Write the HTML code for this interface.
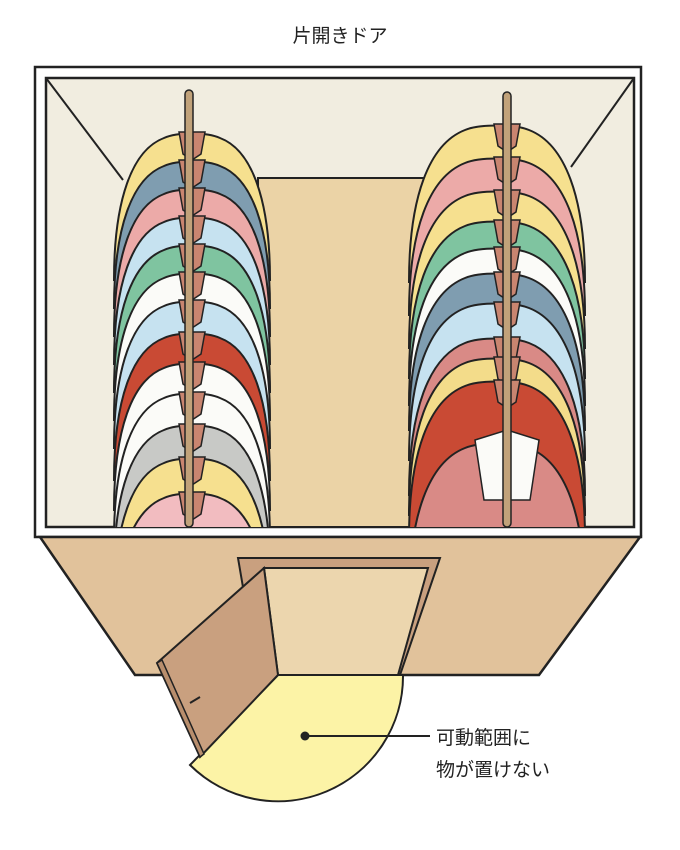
<!DOCTYPE html>
<html><head><meta charset="utf-8"><style>
html,body{margin:0;padding:0;background:#fff;}
svg{display:block}
text{font-family:"Liberation Sans","Noto Sans CJK JP",sans-serif;}
</style></head><body>
<svg width="680" height="850" viewBox="0 0 680 850" xmlns="http://www.w3.org/2000/svg">
<defs>
<path id="g" d="M-78,150 C-78,70 -60,20 -28,8 C-15,2 15,2 28,8 C60,20 78,70 78,150 Z" stroke="#222" stroke-width="2"/>
<path id="gr" d="M-88,160 C-88,75 -68,22 -32,8 C-18,2 18,2 32,8 C68,22 88,75 88,160 Z" stroke="#222" stroke-width="2"/>
<path id="c" d="M-13,2 L13,2 L9,24 L0,30 L-9,24Z" fill="#c98570" stroke="#222" stroke-width="1.5"/>
<clipPath id="room"><rect x="46" y="78" width="588" height="449"/></clipPath>
</defs>
<text x="340" y="42" font-size="19" text-anchor="middle" fill="#222">片開きドア</text>
<rect x="35" y="67" width="606" height="470" fill="#fff" stroke="#222" stroke-width="2.5"/>
<rect x="46" y="78" width="588" height="449" fill="#f1ede0" stroke="#222" stroke-width="2.5"/>
<rect x="258" y="178" width="174" height="349" fill="#ebd3a6" stroke="#222" stroke-width="2"/>
<line x1="46" y1="78" x2="123" y2="180" stroke="#222" stroke-width="2"/>
<line x1="634" y1="78" x2="571" y2="167" stroke="#222" stroke-width="2"/>
<g clip-path="url(#room)">
<use href="#g" x="192" y="130" fill="#f6e08f"/><use href="#c" x="192" y="130"/>
<use href="#g" x="192" y="158" fill="#7f9db0"/><use href="#c" x="192" y="158"/>
<use href="#g" x="192" y="186" fill="#ecaaa8"/><use href="#c" x="192" y="186"/>
<use href="#g" x="192" y="214" fill="#c6e2f0"/><use href="#c" x="192" y="214"/>
<use href="#g" x="192" y="242" fill="#7fc4a0"/><use href="#c" x="192" y="242"/>
<use href="#g" x="192" y="270" fill="#fbfbf8"/><use href="#c" x="192" y="270"/>
<use href="#g" x="192" y="298" fill="#c6e2f0"/><use href="#c" x="192" y="298"/>
<use href="#g" x="192" y="330" fill="#c94a34"/><use href="#c" x="192" y="330"/>
<use href="#g" x="192" y="360" fill="#fbfbf8"/><use href="#c" x="192" y="360"/>
<use href="#g" x="192" y="390" fill="#fbfbf8"/><use href="#c" x="192" y="390"/>
<use href="#g" x="192" y="422" fill="#c8c9c6"/><use href="#c" x="192" y="422"/>
<use href="#g" x="192" y="455" fill="#f6e08f"/><use href="#c" x="192" y="455"/>
<use href="#g" x="192" y="490" fill="#f2bcc0"/><use href="#c" x="192" y="490"/>
<use href="#gr" x="497" y="122" fill="#f6e08f"/><use href="#c" x="507" y="122"/>
<use href="#gr" x="497" y="155" fill="#ecaaa8"/><use href="#c" x="507" y="155"/>
<use href="#gr" x="497" y="188" fill="#f6e08f"/><use href="#c" x="507" y="188"/>
<use href="#gr" x="497" y="218" fill="#7fc4a0"/><use href="#c" x="507" y="218"/>
<use href="#gr" x="497" y="245" fill="#fbfbf8"/><use href="#c" x="507" y="245"/>
<use href="#gr" x="497" y="270" fill="#7f9db0"/><use href="#c" x="507" y="270"/>
<use href="#gr" x="497" y="300" fill="#c6e2f0"/><use href="#c" x="507" y="300"/>
<use href="#gr" x="497" y="335" fill="#d98a86"/><use href="#c" x="507" y="335"/>
<use href="#gr" x="497" y="355" fill="#f3dc8a"/><use href="#c" x="507" y="355"/>
<use href="#gr" x="497" y="378" fill="#c94a34"/><use href="#c" x="507" y="378"/>
<use href="#gr" x="497" y="440" fill="#d98a86"/>
<path d="M475,440 L507,430 L539,440 L530,500 L484,500Z" fill="#fbfbf8" stroke="#222" stroke-width="1.5"/>
</g>
<rect x="185" y="90" width="8" height="437" rx="4" fill="#c1a27a" stroke="#222" stroke-width="1.5"/>
<rect x="503" y="92" width="8" height="435" rx="4" fill="#c1a27a" stroke="#222" stroke-width="1.5"/>
<polygon points="40,537 640,537 539,675 135,675" fill="#e1c29b" stroke="#222" stroke-width="2.5"/>
<polygon points="238,558 440,558 400,675 258,675" fill="#c9a07f" stroke="#222" stroke-width="2"/>
<polygon points="264,568 428,568 398,675 278,675" fill="#ecd6ae" stroke="#222" stroke-width="2"/>
<path d="M278,675 L403,675 A125,125 0 0 1 190,765 Z" fill="#fcf3a6" stroke="#222" stroke-width="2"/>
<polygon points="157,663 264,568 278,675 200,757" fill="#c9a07f" stroke="#222" stroke-width="2"/>
<polygon points="157,663 162,660 204,754 200,757" fill="#b88e6d" stroke="#222" stroke-width="1.5"/>
<path d="M190,703 L200,697" stroke="#222" stroke-width="2"/>
<circle cx="305" cy="736" r="4.5" fill="#222"/>
<line x1="305" y1="736" x2="430" y2="736" stroke="#222" stroke-width="2"/>
<text x="436" y="744" font-size="19" fill="#222">可動範囲に</text>
<text x="436" y="776" font-size="19" fill="#222">物が置けない</text>
</svg>
</body></html>
